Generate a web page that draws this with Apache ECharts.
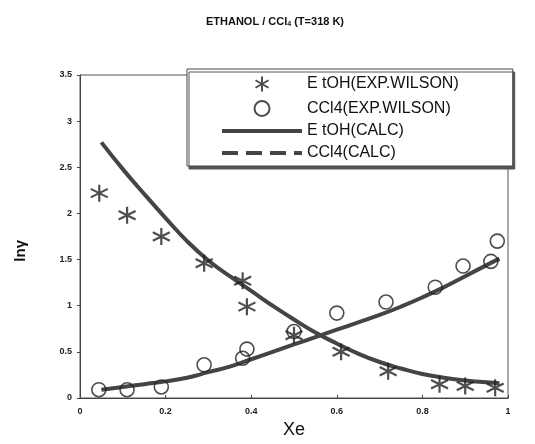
<!DOCTYPE html>
<html>
<head>
<meta charset="utf-8">
<script src="https://cdn.jsdelivr.net/npm/echarts@6/dist/echarts.min.js"></script>
<style>
  html, body { margin: 0; padding: 0; background: #fff; }
  #chart { width: 535px; height: 444px; }
</style>
</head>
<body>
<div id="chart"></div>
<script>
// Ethanol / CCl4 activity coefficients at 318 K
const etohExpX = [0.045, 0.11, 0.19, 0.29, 0.38, 0.39, 0.50, 0.61, 0.72, 0.84, 0.90, 0.97];
const etohExpY = [2.22, 1.98, 1.75, 1.46, 1.27, 0.99, 0.68, 0.50, 0.29, 0.15, 0.13, 0.11];

const ccl4ExpX = [0.044, 0.11, 0.19, 0.29, 0.38, 0.39, 0.50, 0.60, 0.715, 0.83, 0.895, 0.96, 0.975];
const ccl4ExpY = [0.09, 0.09, 0.12, 0.36, 0.43, 0.53, 0.72, 0.92, 1.04, 1.20, 1.43, 1.48, 1.70];

const calcX    = [0.05, 0.10, 0.15, 0.20, 0.25, 0.30, 0.35, 0.40, 0.45, 0.50, 0.55, 0.60, 0.65, 0.70, 0.75, 0.80, 0.85, 0.90, 0.95, 0.98];
const etohCalc = [2.77, 2.48, 2.21, 1.95, 1.70, 1.49, 1.32, 1.16, 1.00, 0.85, 0.71, 0.59, 0.48, 0.39, 0.32, 0.26, 0.22, 0.19, 0.17, 0.16];
const ccl4Calc = [0.09, 0.12, 0.15, 0.18, 0.22, 0.28, 0.34, 0.42, 0.50, 0.58, 0.66, 0.74, 0.82, 0.90, 0.99, 1.09, 1.20, 1.32, 1.44, 1.51];

const xTicks = ['0', '0.2', '0.4', '0.6', '0.8', '1'];
const yTicks = ['0', '0.5', '1', '1.5', '2', '2.5', '3', '3.5'];

const names = ['E tOH(EXP.WILSON)', 'CCl4(EXP.WILSON)', 'E tOH(CALC)', 'CCl4(CALC)'];

const zip = (xs, ys) => xs.map((x, i) => [x, ys[i]]);
const fmt = (list, step) => v => list[Math.round(v / step)] ?? '';

// six-armed asterisk drawn as strokes only
const asterisk = 'path://M0,-10L0,10M-8.66,-5L8.66,5M-8.66,5L8.66,-5';

const chart = echarts.init(document.getElementById('chart'), null, { renderer: 'canvas' });
chart.setOption({
  animation: false,
  backgroundColor: '#fff',
  title: {
    text: 'ETHANOL / CCl{s|4} (T=318 K)',
    left: 270, top: 10, textAlign: 'center',
    textStyle: {
      fontFamily: 'Liberation Sans', fontSize: 11, fontWeight: 'bold', color: '#111',
      rich: { s: { fontSize: 7, fontWeight: 'bold', verticalAlign: 'bottom', padding: [6, 0, 0, 0], fontFamily: 'Liberation Sans' } }
    }
  },
  graphic: [{
    type: 'text', left: 13, top: 240, rotation: Math.PI / 2,
    style: { text: 'lnγ', font: 'bold 15px "Liberation Sans"', fill: '#111' }
  }],
  grid: { left: 80, right: 27, top: 75, bottom: 46, show: true, borderColor: '#555', borderWidth: 1 },
  legend: {
    orient: 'vertical',
    left: 187, top: 69,
    padding: [5, 54, 5, 33],
    itemGap: 6,
    itemWidth: 80, itemHeight: 15,
    backgroundColor: '#fff',
    borderColor: '#444', borderWidth: 1,
    shadowColor: '#555', shadowOffsetX: 2, shadowOffsetY: 3, shadowBlur: 0,
    textStyle: { fontFamily: 'Liberation Sans', fontSize: 16, color: '#111' },
    data: [
      { name: names[0] },
      { name: names[1] },
      { name: names[2], itemStyle: { opacity: 0 }, lineStyle: { width: 4, color: '#444' } },
      { name: names[3], itemStyle: { opacity: 0 }, lineStyle: { type: 'dashed', width: 4, color: '#444' } }
    ]
  },
  xAxis: {
    type: 'value', min: 0, max: 1, interval: 0.2,
    name: 'Xe', nameLocation: 'middle', nameGap: 22,
    nameTextStyle: { fontFamily: 'Liberation Sans', fontSize: 18, color: '#111' },
    axisLine: { lineStyle: { color: '#444', width: 1 } },
    axisTick: { inside: true, length: 3, lineStyle: { color: '#444' } },
    splitLine: { show: false },
    axisLabel: { formatter: fmt(xTicks, 0.2), fontFamily: 'Liberation Sans', fontSize: 9, fontWeight: 'bold', color: '#222', margin: 9 }
  },
  yAxis: {
    type: 'value', min: 0, max: 3.5, interval: 0.5,
    axisLine: { show: true, lineStyle: { color: '#444', width: 1 } },
    axisTick: { show: true, length: 3, lineStyle: { color: '#444' } },
    splitLine: { show: false },
    axisLabel: { formatter: fmt(yTicks, 0.5), fontFamily: 'Liberation Sans', fontSize: 9, fontWeight: 'bold', color: '#222', margin: 8 }
  },
  series: [
    {
      name: names[0], type: 'scatter', data: zip(etohExpX, etohExpY),
      symbol: asterisk, symbolSize: 17,
      itemStyle: { color: 'none', borderColor: '#222', borderWidth: 2.2 }, z: 4
    },
    {
      name: names[1], type: 'scatter', data: zip(ccl4ExpX, ccl4ExpY),
      symbol: 'circle', symbolSize: 14,
      itemStyle: { color: 'rgba(255,255,255,0)', borderColor: '#222', borderWidth: 1.6 }, z: 4
    },
    {
      name: names[2], type: 'line', data: zip(calcX, etohCalc),
      smooth: true, showSymbol: false, symbol: 'none',
      lineStyle: { color: '#444', width: 4 }, itemStyle: { color: '#444' }, z: 3
    },
    {
      name: names[3], type: 'line', data: zip(calcX, ccl4Calc),
      smooth: true, showSymbol: false, symbol: 'none',
      lineStyle: { color: '#444', width: 4 }, itemStyle: { color: '#444' }, z: 3
    }
  ]
});
</script>
</body>
</html>
